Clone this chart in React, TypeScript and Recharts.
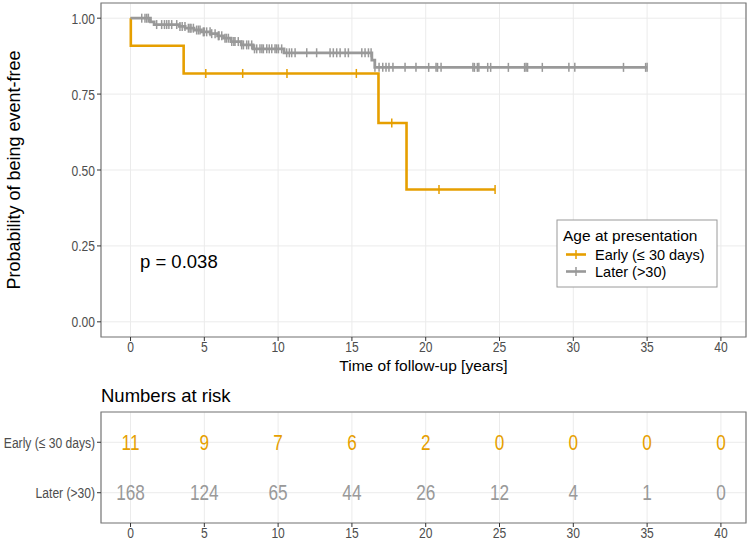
import { ComposedChart, ScatterChart, Line, Scatter, XAxis, YAxis, CartesianGrid, ReferenceArea } from 'recharts'

// Kaplan-Meier steps (time in years, survival probability)
const earlyTimes = [0, 0.02, 3.6, 16.8, 18.7, 24.7]
const earlySurv = [1.0, 0.909, 0.818, 0.655, 0.436, 0.436]
const earlyCensored = [5.1, 7.6, 10.6, 15.3, 17.7, 20.9, 24.7]

const laterTimes = [0, 1.35, 1.6, 3.3, 3.7, 4.3, 4.8, 5.4, 5.9, 6.3, 6.8, 7.5, 8.3, 10.4, 16.35, 16.55, 35.0]
const laterSurv = [1.0, 0.988, 0.979, 0.973, 0.967, 0.961, 0.955, 0.949, 0.942, 0.934, 0.923, 0.912, 0.899, 0.886, 0.862, 0.838, 0.838]
const laterCensored = [
  0.76, 0.98, 1.1, 1.21, 1.77, 2.11, 2.3, 2.45, 2.6, 2.79, 3.13, 3.35, 3.5, 3.69, 3.92, 4.03, 4.1, 4.26,
  4.48, 4.6, 4.71, 4.93, 5.0, 5.16, 5.39, 5.5, 5.73, 5.95, 6.0, 6.18, 6.4, 6.5, 6.63, 6.86, 7.0, 7.08,
  7.3, 7.53, 7.65, 7.87, 8.0, 8.21, 8.4, 8.55, 8.77, 8.9, 9.0, 9.23, 9.4, 9.57, 9.79, 9.9, 10.02, 10.24,
  10.58, 10.76, 10.92, 11.15, 11.94, 12.61, 13.52, 13.74, 13.97, 14.2, 14.54, 14.76, 15.67, 15.89, 16.12,
  16.3, 16.56, 16.84, 17.09, 17.31, 17.51, 17.78, 18.6, 19.34, 20.2, 20.7, 20.8, 21.04, 23.2, 23.3, 23.5,
  23.6, 24.2, 24.4, 25.6, 26.7, 26.8, 26.9, 27.9, 29.7, 30.1, 33.4, 34.9, 35.0,
]

// numbers at risk table
const riskTimes = [0, 5, 10, 15, 20, 25, 30, 35, 40]
const earlyAtRisk = [11, 9, 7, 6, 2, 0, 0, 0, 0]
const laterAtRisk = [168, 124, 65, 44, 26, 12, 4, 1, 0]

const xTicks = [0, 5, 10, 15, 20, 25, 30, 35, 40]
const yTicks = [0, 0.25, 0.5, 0.75, 1]
const groupNames = ['Early (≤ 30 days)', 'Later (>30)']

const ORANGE = '#E69F00'
const GREY = '#999999'
const TICK_COLOR = '#4D4D4D'
const BORDER = '#7a7a7a'
const GRID = '#EBEBEB'
const X_DOMAIN: [number, number] = [-2, 41.7]

const survivalAt = (times: number[], surv: number[], t: number) => {
  let s = surv[0]
  for (let i = 0; i < times.length; i++) {
    if (times[i] <= t) s = surv[i]
  }
  return s
}

const toSteps = (times: number[], surv: number[]) => times.map((t, i) => ({ t, s: surv[i] }))
const toMarks = (censored: number[], times: number[], surv: number[]) =>
  censored.map((t) => ({ t, s: survivalAt(times, surv, t) }))

const earlySteps = toSteps(earlyTimes, earlySurv)
const laterSteps = toSteps(laterTimes, laterSurv)
const earlyMarks = toMarks(earlyCensored, earlyTimes, earlySurv)
const laterMarks = toMarks(laterCensored, laterTimes, laterSurv)

const earlyRisk = riskTimes.map((t, i) => ({ t, row: 2, n: earlyAtRisk[i] }))
const laterRisk = riskTimes.map((t, i) => ({ t, row: 1, n: laterAtRisk[i] }))

const XTick = ({ x, y, payload }: any) => (
  <text transform={`translate(${x},${y + 9}) scale(0.78,1)`} textAnchor="middle" fontSize={15.5} fill={TICK_COLOR}>
    {payload.value}
  </text>
)

const YTick = ({ x, y, payload }: any) => (
  <text transform={`translate(${x},${y + 5.5}) scale(0.78,1)`} textAnchor="end" fontSize={15.5} fill={TICK_COLOR}>
    {Number(payload.value).toFixed(2)}
  </text>
)

const RowTick = ({ x, y, payload }: any) => (
  <text transform={`translate(${x},${y + 5.5}) scale(0.78,1)`} textAnchor="end" fontSize={15.5} fill={TICK_COLOR}>
    {payload.value === 2 ? groupNames[0] : groupNames[1]}
  </text>
)

const censorShape = (color: string) => (p: any) => (
  <line x1={p.cx} x2={p.cx} y1={p.cy - 4.5} y2={p.cy + 4.5} stroke={color} strokeWidth={1.5} />
)

const riskShape = (color: string) => (p: any) => (
  <text
    transform={`translate(${p.cx},${p.cy + 7.5}) scale(0.8,1)`}
    textAnchor="middle"
    fontSize={21.5}
    fill={color}
  >
    {p.payload.n}
  </text>
)

const font = 'Liberation Sans, Arial, sans-serif'

export default function App() {
  return (
    <div style={{ position: 'absolute', left: 0, top: 0, width: 750, height: 542, background: '#fff', fontFamily: font }}>
      <div style={{ position: 'absolute', left: 0, top: 0 }}>
        <ComposedChart width={750} height={380} margin={{ top: 3, right: 4, bottom: 0, left: 0 }}>
          <CartesianGrid stroke={GRID} strokeWidth={1} />
          <XAxis
            type="number"
            dataKey="t"
            domain={X_DOMAIN}
            ticks={xTicks}
            allowDataOverflow
            height={43}
            tickSize={4}
            tickLine={{ stroke: '#333' }}
            axisLine={false}
            tick={<XTick />}
          />
          <YAxis
            type="number"
            dataKey="s"
            domain={[-0.05, 1.05]}
            ticks={yTicks}
            allowDataOverflow
            width={101}
            tickSize={4}
            tickLine={{ stroke: '#333' }}
            axisLine={false}
            tick={<YTick />}
          />
          <ReferenceArea x1={X_DOMAIN[0]} x2={X_DOMAIN[1]} y1={-0.05} y2={1.05} fill="none" stroke={BORDER} strokeWidth={1.2} ifOverflow="visible" />
          <Line data={earlySteps} dataKey="s" type="stepAfter" stroke={ORANGE} strokeWidth={2.6} dot={false} isAnimationActive={false} />
          <Scatter data={earlyMarks} dataKey="s" shape={censorShape(ORANGE)} isAnimationActive={false} />
          <Line data={laterSteps} dataKey="s" type="stepAfter" stroke={GREY} strokeWidth={2.8} dot={false} isAnimationActive={false} />
          <Scatter data={laterMarks} dataKey="s" shape={censorShape(GREY)} isAnimationActive={false} />
        </ComposedChart>
      </div>

      <svg width={750} height={542} style={{ position: 'absolute', left: 0, top: 0, pointerEvents: 'none' }} fontFamily={font}>
        <text transform="translate(14,170) rotate(-90)" textAnchor="middle" dominantBaseline="central" fontSize={18} fill="#000">
          Probability of being event-free
        </text>
        <text x={423.5} y={371} textAnchor="middle" fontSize={15.5} fill="#000">
          Time of follow-up [years]
        </text>
        <text x={140} y={268} fontSize={18.5} fill="#000">
          p = 0.038
        </text>

        {/* legend */}
        <rect x={557} y={220} width={160} height={67} fill="#fff" stroke="#9a9a9a" strokeWidth={1} />
        <text x={563} y={241} fontSize={15.5} fill="#000">Age at presentation</text>
        <line x1={566} x2={586} y1={254.5} y2={254.5} stroke={ORANGE} strokeWidth={2.6} />
        <line x1={576} x2={576} y1={250} y2={259} stroke={ORANGE} strokeWidth={1.5} />
        <text x={595} y={259.5} fontSize={14.5} fill="#000">{groupNames[0]}</text>
        <line x1={566} x2={586} y1={271.5} y2={271.5} stroke={GREY} strokeWidth={2.6} />
        <line x1={576} x2={576} y1={267} y2={276} stroke={GREY} strokeWidth={1.5} />
        <text x={595} y={276.5} fontSize={14.5} fill="#000">{groupNames[1]}</text>

        <text x={101} y={402} fontSize={18.5} fill="#000">Numbers at risk</text>
      </svg>

      <div style={{ position: 'absolute', left: 0, top: 380 }}>
        <ScatterChart width={750} height={162} margin={{ top: 32, right: 4, bottom: 0, left: 0 }}>
          <CartesianGrid stroke={GRID} strokeWidth={1} />
          <XAxis
            type="number"
            dataKey="t"
            domain={X_DOMAIN}
            ticks={xTicks}
            allowDataOverflow
            height={19}
            tickSize={4}
            tickLine={{ stroke: '#333' }}
            axisLine={false}
            tick={<XTick />}
          />
          <YAxis
            type="number"
            dataKey="row"
            domain={[0.4, 2.6]}
            ticks={[1, 2]}
            width={101}
            tickSize={4}
            tickLine={{ stroke: '#333' }}
            axisLine={false}
            tick={<RowTick />}
          />
          <ReferenceArea x1={X_DOMAIN[0]} x2={X_DOMAIN[1]} y1={0.4} y2={2.6} fill="none" stroke={BORDER} strokeWidth={1.2} ifOverflow="visible" />
          <Scatter data={earlyRisk} shape={riskShape(ORANGE)} isAnimationActive={false} />
          <Scatter data={laterRisk} shape={riskShape(GREY)} isAnimationActive={false} />
        </ScatterChart>
      </div>
    </div>
  )
}
